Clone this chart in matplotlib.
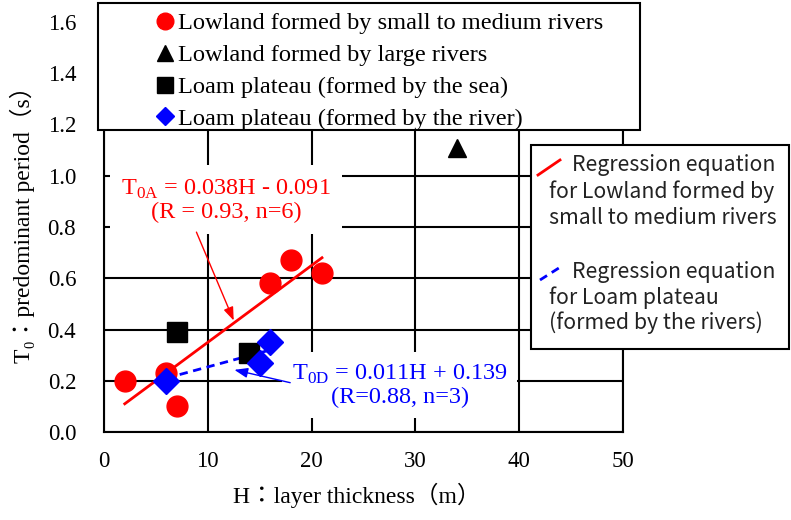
import matplotlib
matplotlib.use("Agg")
import matplotlib.pyplot as plt
from matplotlib.lines import Line2D
from matplotlib.patches import Rectangle

plt.rcParams['font.family'] = ['Liberation Serif', 'Noto Sans CJK JP']
plt.rcParams['mathtext.fontset'] = 'custom'
plt.rcParams['mathtext.rm'] = 'Liberation Serif'

# data
lowland_small_h = [2, 6, 7, 16, 18, 21]
lowland_small_t = [0.20, 0.23, 0.10, 0.58, 0.67, 0.62]
lowland_large_h = [34]
lowland_large_t = [1.11]
loam_sea_h = [7, 14]
loam_sea_t = [0.39, 0.31]
loam_river_h = [6, 15, 16]
loam_river_t = [0.20, 0.27, 0.35]

# regression lines as drawn (end points)
reg_a_h = [2, 21]
reg_a_t = [0.11, 0.68]
reg_d_h = [6, 16]
reg_d_t = [0.21, 0.32]

W, H = 791, 520
fig = plt.figure(figsize=(7.91, 5.20), dpi=100)
ax = fig.add_axes([104 / W, 1 - 432 / H, 519 / W, 410 / H])

ax.set_xlim(0, 50)
ax.set_ylim(0, 1.6)
ax.set_xticks(range(0, 51, 10))
ax.set_yticks([0.2 * i for i in range(9)])
ax.set_yticklabels(['%.1f' % (0.2 * i) for i in range(9)])
ax.grid(True, color='black', linewidth=1.5)
ax.set_axisbelow(True)
for s in ax.spines.values():
    s.set_linewidth(1.5)
ax.tick_params(length=0, labelsize=16.5)
ax.tick_params(axis='x', pad=14)
ax.tick_params(axis='y', pad=20)

ax.set_xlabel('H：layer thickness（m）', fontsize=17)
ax.xaxis.set_label_coords(0.487, -0.125)
ax.set_ylabel('T₀：predominant period（s）', fontsize=17)
ax.yaxis.set_label_coords(-0.133, 0.52)

# regression lines
ax.plot(reg_a_h, reg_a_t, color='red', linewidth=2, zorder=3)
ax.plot(reg_d_h, reg_d_t, color='blue', linewidth=2, linestyle=(0, (3, 2)), zorder=3)

ax.plot(lowland_small_h, lowland_small_t, 'o', color='red', markersize=15, zorder=4)
ax.plot(lowland_large_h, lowland_large_t, '^', color='black', markersize=13, zorder=4)
ax.plot(loam_sea_h, loam_sea_t, 's', color='black', markersize=14, zorder=4)
ax.plot(loam_river_h, loam_river_t, 'D', color='blue', markersize=13, zorder=5)

# annotations
ax.text(11.75, 0.905, 'T$_{\\mathrm{0A}}$ = 0.038H - 0.091\n(R = 0.93, n=6)',
        color='red', fontsize=17.5, ha='center', va='center', linespacing=1.05,
        bbox=dict(boxstyle='square,pad=0.45', facecolor='white', edgecolor='none'), zorder=2)
ax.annotate('', xy=(12.6, 0.425), xytext=(8.8, 0.79),
            arrowprops=dict(arrowstyle='-|>,head_length=0.8,head_width=0.3', color='red', lw=1), zorder=6)

ax.text(28.5, 0.18, 'T$_{\\mathrm{0D}}$ = 0.011H + 0.139\n(R=0.88, n=3)',
        color='blue', fontsize=17.5, ha='center', va='center', linespacing=1.05,
        bbox=dict(boxstyle='square,pad=0.4', facecolor='white', edgecolor='none'), zorder=2)
ax.annotate('', xy=(12.3, 0.245), xytext=(18.2, 0.19),
            arrowprops=dict(arrowstyle='-|>,head_length=0.8,head_width=0.3', color='blue', lw=1), zorder=6)

# marker legend box (top)
fig.add_artist(Rectangle((98 / W, 1 - 130 / H), 542 / W, 127 / H, transform=fig.transFigure,
                         facecolor='white', edgecolor='black', linewidth=1.5, zorder=3))
handles = [
    Line2D([], [], marker='o', color='red', linestyle='None', markersize=12),
    Line2D([], [], marker='^', color='black', linestyle='None', markersize=11),
    Line2D([], [], marker='s', color='black', linestyle='None', markersize=11),
    Line2D([], [], marker='D', color='blue', linestyle='None', markersize=9),
]
labels = ['Lowland formed by small to medium rivers',
          'Lowland formed by large rivers',
          'Loam plateau (formed by the sea)',
          'Loam plateau (formed by the river)']
leg = fig.legend(handles, labels, loc='upper left', bbox_to_anchor=(143 / W, 1.0),
                 frameon=False, fontsize=17.6, handlelength=0.8, handletextpad=0.15,
                 labelspacing=0.4, borderpad=0.0)
leg.set_zorder(4)

# regression legend box (right)
fig.add_artist(Rectangle((531 / W, 1 - 349 / H), 258 / W, 204 / H, transform=fig.transFigure,
                         facecolor='white', edgecolor='black', linewidth=1.5, zorder=3))
fig.add_artist(Line2D([538 / W, 560 / W], [1 - 175 / H, 1 - 160 / H], transform=fig.transFigure,
                      color='red', linewidth=2, zorder=4))
fig.add_artist(Line2D([540 / W, 562 / W], [1 - 280 / H, 1 - 266 / H], transform=fig.transFigure,
                      color='blue', linewidth=2, linestyle=(0, (3, 2)), zorder=4))
sans = ['Noto Sans CJK JP', 'DejaVu Sans']
rlines = [(572, 165, 'Regression equation'), (549, 192, 'for Lowland formed by'),
          (549, 218, 'small to medium rivers'), (572, 272, 'Regression equation'),
          (549, 298, 'for Loam plateau'), (549, 323, '(formed by the rivers)')]
for x, y, s in rlines:
    fig.text(x / W, 1 - y / H, s, family=sans, fontsize=15.3, color='#222222',
             ha='left', va='center', zorder=5)

fig.savefig('out.png', dpi=100)
